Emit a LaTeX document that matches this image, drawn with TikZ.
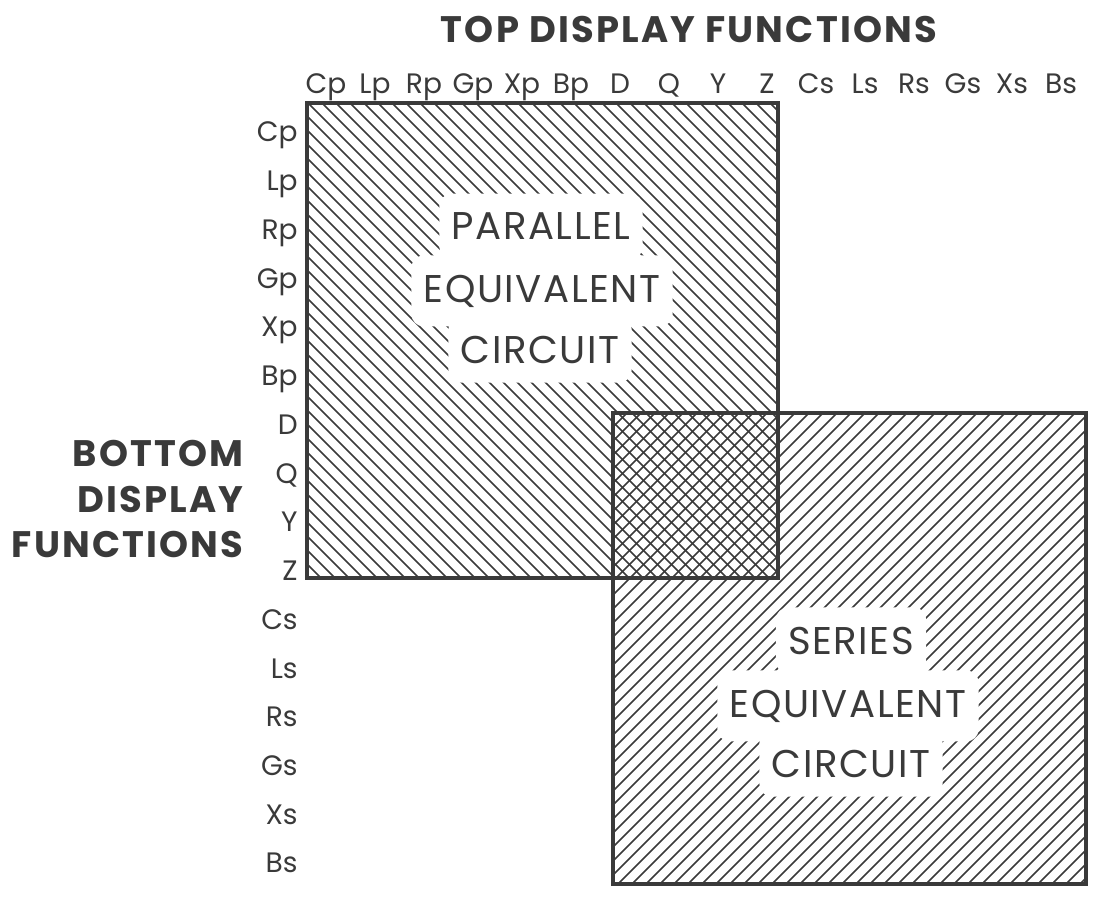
\documentclass[tikz,border=0pt]{standalone}
\usepackage{fontspec}
\setmainfont{Poppins}
\definecolor{ink}{RGB}{58,58,58}
\tikzset{
  box/.style={draw=ink, line width=2.8pt},
  hatch/.style={draw=ink, line width=0.9pt},
  rowlab/.style={anchor=base east, text=ink, inner sep=0pt, font=\fontsize{16}{18}\selectfont},
  collab/.style={anchor=base, text=ink, inner sep=0pt, font=\fontsize{16}{18}\selectfont},
  heading/.style={text=ink, inner sep=0pt, font=\bfseries\fontsize{21}{24}\selectfont\addfontfeature{LetterSpace=6}},
  inside/.style={anchor=base, fill=white, rounded corners=7pt, text=ink, inner xsep=7pt, inner ysep=11pt, font=\fontsize{22}{24}\selectfont\addfontfeature{LetterSpace=4}},
}
\begin{document}
\begin{tikzpicture}[x=0.02cm, y=-0.02cm]
            \useasboundingbox (0,0) rectangle (1094,898);

            %corners
            \coordinate (pnw) at (307,103);
            \coordinate (pse) at (778,578);
            \coordinate (snw) at (613,413);
            \coordinate (sse) at (1086,884);

            %hatching
            \begin{scope}
                \clip (pnw) rectangle (pse);
                \foreach \c in {-271,-257,...,675}
                    \draw[hatch] (\c+100,100) -- (\c+600,600);
            \end{scope}
            \begin{scope}
                \clip (snw) rectangle (sse);
                \foreach \c in {1026,1040,...,1970}
                    \draw[hatch] (\c-410,410) -- (\c-890,890);
            \end{scope}

            %boxes
            \draw[box] (pnw) rectangle (pse);
            \draw[box] (snw) rectangle (sse);

            %labels
            \foreach \lab [count=\i] in {Cp, Lp, Rp, Gp, Xp, Bp, D, Q, Y, Z, Cs, Ls, Rs, Gs, Xs, Bs}
                \node[collab] (top\i) at ({326+49*(\i-1)},94) {\lab};
            \foreach \lab [count=\i] in {Cp, Lp, Rp, Gp, Xp, Bp, D, Q, Y, Z, Cs, Ls, Rs, Gs, Xs, Bs}
                \node[rowlab] (row\i) at (298,{142+48.73*(\i-1)}) {\lab};

            %headings
            \node[heading, anchor=base] (toptitle) at (689,43) {TOP DISPLAY FUNCTIONS};
            \node[heading, anchor=base east] (bot1) at (244,466) {BOTTOM};
            \node[heading, anchor=base east] (bot2) at (244,512) {DISPLAY};
            \node[heading, anchor=base east] (bot3) at (244,557) {FUNCTIONS};

            %circuits
            \node[inside] (par1) at (541,240) {PARALLEL};
            \node[inside] (par2) at (542,302) {EQUIVALENT};
            \node[inside] (par3) at (540,363) {CIRCUIT};
            \node[inside] (ser1) at (851,654) {SERIES};
            \node[inside] (ser2) at (848,717) {EQUIVALENT};
            \node[inside] (ser3) at (851,777) {CIRCUIT};
        \end{tikzpicture}
\end{document}
